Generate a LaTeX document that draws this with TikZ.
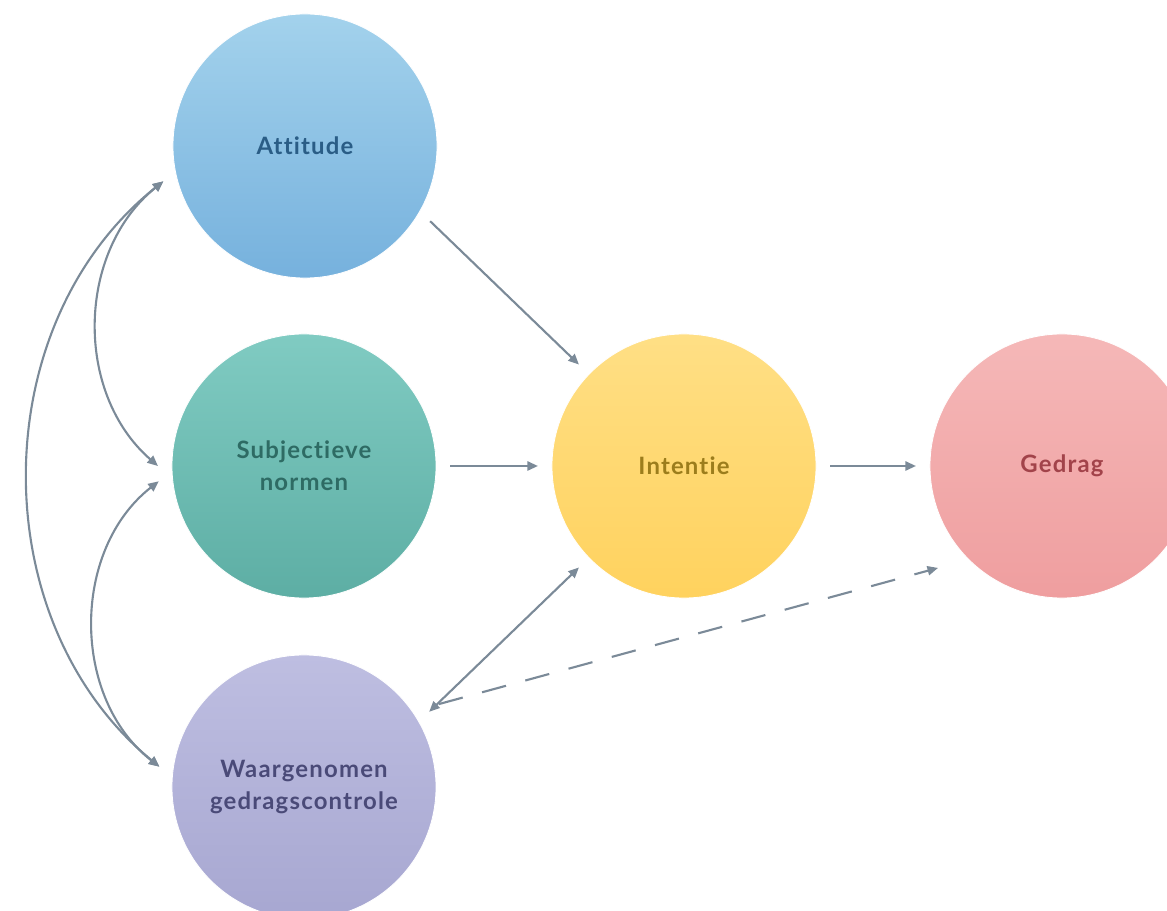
\documentclass[tikz,border=0pt]{standalone}
\usepackage{fontspec}
\setmainfont{Lato}[Ligatures=NoCommon,LetterSpace=5]
\usepackage{tikz}
\usetikzlibrary{arrows.meta,positioning}

\definecolor{linkgray}{HTML}{7B8A98}
\definecolor{attTop}{HTML}{A3D2EC}
\definecolor{attBot}{HTML}{76B1DD}
\definecolor{attText}{HTML}{2A5D86}
\definecolor{subTop}{HTML}{80CBC2}
\definecolor{subBot}{HTML}{5DAEA4}
\definecolor{subText}{HTML}{2E6B64}
\definecolor{intTop}{HTML}{FFDF85}
\definecolor{intBot}{HTML}{FFD25E}
\definecolor{intText}{HTML}{9C7D1C}
\definecolor{gedTop}{HTML}{F5B8B8}
\definecolor{gedBot}{HTML}{EF9E9F}
\definecolor{gedText}{HTML}{A2434A}
\definecolor{wgcTop}{HTML}{BEBEE1}
\definecolor{wgcBot}{HTML}{A7A7D1}
\definecolor{wgcText}{HTML}{4A4A78}

\begin{document}
\begin{tikzpicture}[
    x=0.025cm, y=-0.025cm,
    factor/.style={circle,minimum size=6.6cm,inner sep=0pt,outer sep=0.35cm,
      draw=white,line width=0.6pt,align=center,
      font=\fontsize{17}{23}\selectfont\bfseries},
    link/.style={draw=linkgray,line width=1.5pt,-{Triangle[length=7.5pt,width=6.5pt]}},
    both/.style={link,{Triangle[length=7.5pt,width=6.5pt]}-{Triangle[length=7.5pt,width=6.5pt]}}
  ]
    \useasboundingbox (0,0) rectangle (1167,911);

    % Determinants
    \node[factor,top color=attTop,bottom color=attBot,text=attText] (att) at (305,146) {Attitude};
    \node[factor,top color=subTop,bottom color=subBot,text=subText] (sub) at (304,466) {Subjectieve\\normen};
    \node[factor,top color=wgcTop,bottom color=wgcBot,text=wgcText] (wgc) at (304,787) {Waargenomen\\gedragscontrole};

    % Intention and behaviour
    \node[factor,top color=intTop,bottom color=intBot,text=intText] (int) at (684,466) {Intentie};
    \node[factor,top color=gedTop,bottom color=gedBot,text=gedText] (ged) at (1062,466) {Gedrag};

    % Correlations on the left
    \draw[both] (att.194.6) to[bend right=50] (sub.180.5);
    \draw[both] (sub.186.5) to[bend right=52] (wgc.172.5);
    \draw[both] (att.194.6) to[bend right=51] (wgc.172.5);

    % Paths to intention
    \draw[link] (att.-31.5) -- (int.136);
    \draw[link] (sub.east) -- (int.west);
    \draw[both] (wgc.31) -- (int.-136.7);

    % Paths to behaviour
    \draw[link] (int.east) -- (ged.west);
    \draw[link,dash pattern=on 0.62cm off 0.5cm,shorten <=0.32cm,shorten >=0.4cm] (wgc.33) -- (ged.222);
\end{tikzpicture}
\end{document}
